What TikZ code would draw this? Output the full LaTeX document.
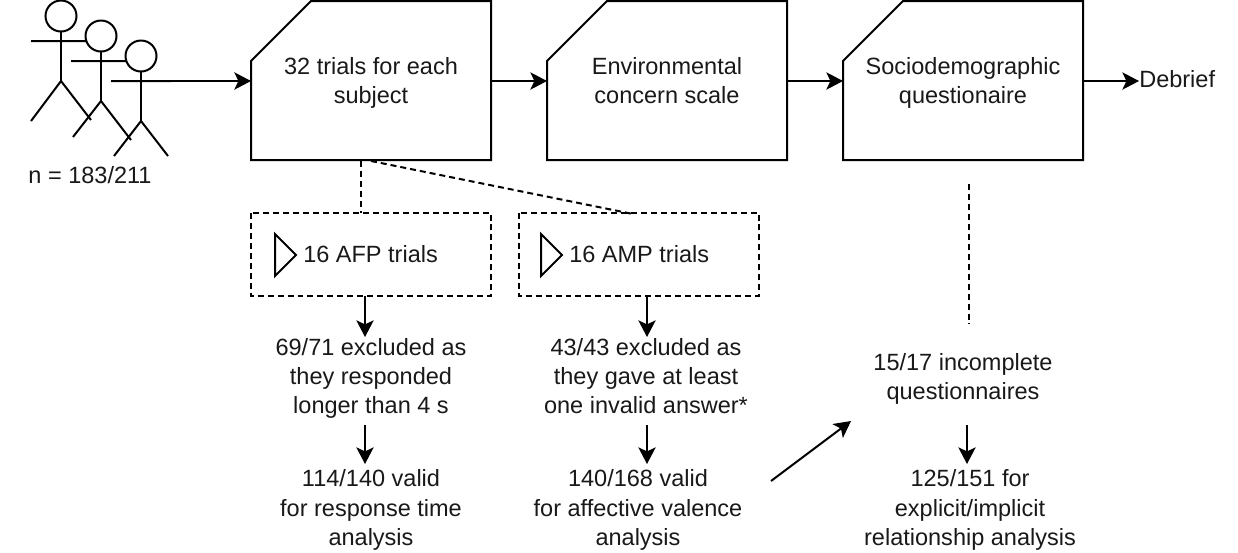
\documentclass[tikz,border=0pt]{standalone}
\usepackage{fontspec}
\setmainfont{Liberation Sans}
\usetikzlibrary{arrows.meta}
\tikzset{x=0.0264583cm,y=-0.0264583cm,
 lbl/.style={align=center,font=\fontsize{17.7}{22}\selectfont,inner sep=0pt,text=black!90,execute at begin node=\strut,execute at end node=\strut},
 cardbox/.style={draw,line width=1.5pt,fill=white},
 dashbox/.style={draw,line width=1.5pt,dash pattern=on 4.5pt off 3pt},
 dashln/.style={draw,line width=1.5pt,dash pattern=on 4.5pt off 3pt},
 arr/.style={draw,line width=1.5pt,-{Stealth[length=12.5pt,width=13pt,inset=3pt]}},
 lim/.style={draw,line width=1.5pt,line cap=butt}}
\begin{document}
\begin{tikzpicture}
\useasboundingbox (0,0) rectangle (1238,552);
\fill[white] (0,0) rectangle (1238,552);
% stick figures
\draw[lim] (61,32) -- (61,81) (31,41) -- (86,41) (61,81) -- (31,121) (61,81) -- (91,120);
\draw[lim,fill=white] (61,16) circle (15.5);
\draw[lim] (101,52) -- (101,101) (71,61) -- (126,61) (101,101) -- (73,137) (101,101) -- (131,140);
\draw[lim,fill=white] (101,36) circle (15.5);
\draw[lim] (141,72) -- (141,121) (111,81) -- (171,81) (141,121) -- (114,156) (141,121) -- (168,156);
\draw[lim,fill=white] (141,56) circle (15.5);
\coordinate (fig) at (111,81);
\node[lbl] (n) at (90,178) {n = 183/211};
\draw[cardbox] (311,1) -- (491,1) -- (491,160) -- (251,160) -- (251,61) -- cycle;
\coordinate (b1l) at (251,81); \coordinate (b1r) at (491,81);
\node[lbl] (t1) at (371,85) {32 trials for each\\subject};
\draw[cardbox] (607,1) -- (787,1) -- (787,160) -- (547,160) -- (547,61) -- cycle;
\coordinate (b2l) at (547,81); \coordinate (b2r) at (787,81);
\node[lbl] (t2) at (667,85) {Environmental\\concern scale};
\draw[cardbox] (903,1) -- (1083,1) -- (1083,160) -- (843,160) -- (843,61) -- cycle;
\coordinate (b3l) at (843,81); \coordinate (b3r) at (1083,81);
\node[lbl] (t3) at (963,85) {Sociodemographic\\questionaire};
\node[lbl,anchor=west] (deb) at (1139,82) {Debrief};
\draw[arr] (fig) -- (b1l);
\draw[arr] (b1r) -- (b2l);
\draw[arr] (b2r) -- (b3l);
\draw[arr] (b3r) -- (deb.west |- b3r);
\draw[dashbox] (251,213) rectangle (491,296);
\draw[dashbox] (519,213) rectangle (759,296);
\draw[lim] (275,234) -- (275,276) -- (296,255) -- cycle;
\draw[lim] (541,234) -- (541,276) -- (562,255) -- cycle;
\node[lbl,anchor=west] (afp) at (303,257) {16 AFP trials};
\node[lbl,anchor=west] (amp) at (569,257) {16 AMP trials};
\draw[dashln] (361,161) -- (361,213);
\draw[dashln] (371,161) -- (633,214);
\draw[dashln] (969,184) -- (969,324);
\draw[arr] (365,296) -- (365,337);
\draw[arr] (647,296) -- (647,337);
\draw[arr] (365,425) -- (365,464);
\draw[arr] (647,425) -- (647,464);
\draw[arr] (967,425) -- (967,464);
\draw[arr] (771,481) -- (851,421);
\node[lbl] (e1) at (371,380.5) {69/71 excluded as\\they responded\\longer than 4 s};
\node[lbl] (e2) at (646,380.5) {43/43 excluded as\\they gave at least\\one invalid answer*};
\node[lbl] (e3) at (963,381) {15/17 incomplete\\questionnaires};
\node[lbl] (v1) at (371,512) {114/140 valid\\for response time\\analysis};
\node[lbl] (v2) at (638,512) {140/168 valid\\for affective valence\\analysis};
\node[lbl] (v3) at (970,512) {125/151 for\\explicit/implicit\\relationship analysis};
\end{tikzpicture}
\end{document}
